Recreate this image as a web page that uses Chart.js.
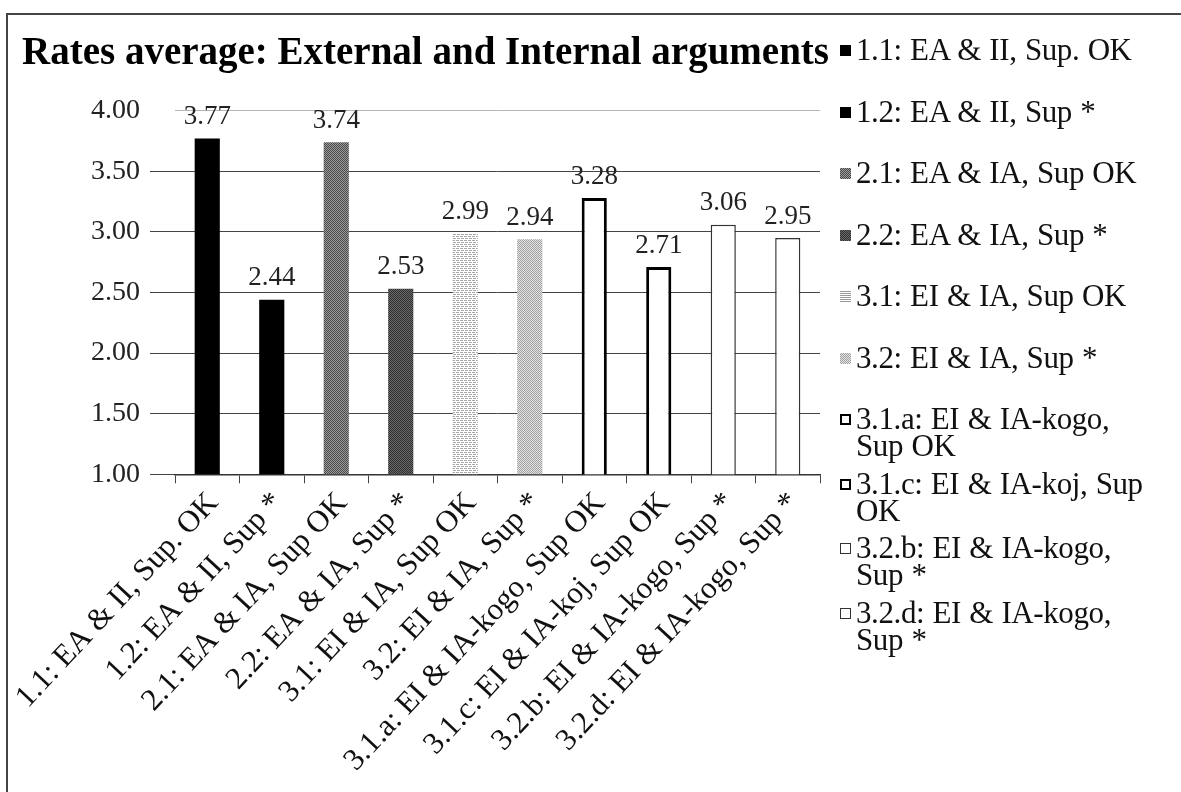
<!DOCTYPE html>
<html>
<head>
<meta charset="utf-8">
<title>Rates average</title>
<script src="https://cdn.jsdelivr.net/npm/chart.js@4/dist/chart.umd.min.js"></script>
<style>
    body { margin: 0; background: #fff; font-family: "Liberation Serif", "Times New Roman", Times, serif; }
    #frame { position: absolute; left: 6px; top: 13px; width: 1200px; height: 800px;
             border-left: 2px solid #444; border-top: 2px solid #444; }
    #wrap { position: absolute; left: 0; top: 0; width: 845px; height: 792px; }
    #legend { position: absolute; left: 838px; top: 36px; width: 343px; color: #111; }
    .item { display: flex; align-items: flex-start; font-size: 31px; line-height: 27px; }
    .item.one { height: 61.5px; }
    .item.two { height: 64.5px; }
    .mark { flex: 0 0 11px; width: 11px; height: 11px; margin: 9px 5px 0 2px; box-sizing: border-box; }
    .txt { width: 298px; letter-spacing: -0.4px; word-spacing: 1px; }
</style>
</head>
<body>
<div id="frame"></div>
<div id="wrap"><canvas id="rateChart"></canvas></div>
<div id="legend"></div>
<script>
const TITLE = 'Rates average: External and Internal arguments';
const SERIF = '"Liberation Serif", "Times New Roman", Times, serif';

const categories = [
    '1.1: EA & II, Sup. OK',
    '1.2: EA & II, Sup *',
    '2.1: EA & IA, Sup OK',
    '2.2: EA & IA, Sup *',
    '3.1: EI & IA, Sup OK',
    '3.2: EI & IA, Sup *',
    '3.1.a: EI & IA-kogo, Sup OK',
    '3.1.c: EI & IA-koj, Sup OK',
    '3.2.b: EI & IA-kogo, Sup *',
    '3.2.d: EI & IA-kogo, Sup *'
];

const rates = [3.77, 2.44, 3.74, 2.53, 2.99, 2.94, 3.28, 2.71, 3.06, 2.95];

const yTicks = [1.00, 1.50, 2.00, 2.50, 3.00, 3.50, 4.00];

// small repeating fills, close to the old printed hatches
function makePattern(bg, fg, kind) {
    const c = document.createElement('canvas');
    c.width = 4; c.height = 4;
    const g = c.getContext('2d');
    g.fillStyle = bg;
    g.fillRect(0, 0, 4, 4);
    g.fillStyle = fg;
    for (let y = 0; y < 4; y++) {
        for (let x = 0; x < 4; x++) {
            if (kind === 'checker' && (x + y) % 2 === 0) g.fillRect(x, y, 1, 1);
            if (kind === 'dash' && ((y === 0 && x < 3) || (y === 2 && x > 0))) g.fillRect(x, y, 1, 1);
        }
    }
    return g.createPattern(c, 'repeat');
}

const fills = [
    '#000000',
    '#000000',
    makePattern('#9a9a9a', '#4a4a4a', 'checker'),
    makePattern('#6a6a6a', '#2e2e2e', 'checker'),
    makePattern('#ffffff', '#a8a8a8', 'dash'),
    makePattern('#e4e4e4', '#a0a0a0', 'checker'),
    '#ffffff',
    '#ffffff',
    '#ffffff',
    '#ffffff'
];
const borders = ['#000', '#000', '#666', '#444', '#ccc', '#bbb', '#000', '#000', '#333', '#333'];
const borderWidths = [0, 0, 0, 0, 0, 0, 3, 3, 1.5, 1.5];

// css versions for the html legend markers
const markCss = [
    'background:#000;',
    'background:#000;',
    'background:repeating-conic-gradient(#4a4a4a 0 25%, #9a9a9a 0 50%) 0 0/2px 2px;',
    'background:repeating-conic-gradient(#2e2e2e 0 25%, #6a6a6a 0 50%) 0 0/2px 2px;',
    'background:repeating-linear-gradient(#999 0 1px, #fff 1px 2px);',
    'background:repeating-conic-gradient(#a0a0a0 0 25%, #e4e4e4 0 50%) 0 0/2px 2px;',
    'background:#fff;border:2px solid #000;',
    'background:#fff;border:2px solid #000;',
    'background:#fff;border:1px solid #333;',
    'background:#fff;border:1px solid #333;'
];

const valueLabels = {
    id: 'valueLabels',
    afterDatasetsDraw(chart) {
        const ctx = chart.ctx;
        const meta = chart.getDatasetMeta(0);
        ctx.save();
        ctx.font = '27px ' + SERIF;
        ctx.fillStyle = '#222';
        ctx.textAlign = 'center';
        ctx.textBaseline = 'bottom';
        meta.data.forEach((bar, i) => {
            ctx.fillText(rates[i].toFixed(2), bar.x, bar.y - 8);
        });
        ctx.restore();
    }
};

// the built-in title squeezes text to the box width, this one may run past the plot
const wideTitle = {
    id: 'wideTitle',
    afterDraw(chart) {
        const ctx = chart.ctx;
        ctx.save();
        ctx.font = 'bold 39px ' + SERIF;
        ctx.fillStyle = '#000';
        ctx.textAlign = 'left';
        ctx.textBaseline = 'alphabetic';
        ctx.fillText(TITLE, 22, 64);
        ctx.restore();
    }
};

function buildLegend() {
    const box = document.getElementById('legend');
    categories.forEach((name, i) => {
        const item = document.createElement('div');
        item.className = 'item ' + (i < 6 ? 'one' : 'two');
        const mark = document.createElement('span');
        mark.className = 'mark';
        mark.style.cssText = markCss[i];
        const txt = document.createElement('span');
        txt.className = 'txt';
        txt.textContent = name;
        item.appendChild(mark);
        item.appendChild(txt);
        box.appendChild(item);
    });
}

document.addEventListener('DOMContentLoaded', () => {
    buildLegend();

    const ctx = document.getElementById('rateChart').getContext('2d');
    new Chart(ctx, {
        type: 'bar',
        data: {
            labels: categories,
            datasets: [{
                data: rates,
                backgroundColor: fills,
                borderColor: borders,
                borderWidth: borderWidths,
                borderSkipped: false,
                categoryPercentage: 1,
                barPercentage: 0.39
            }]
        },
        options: {
            responsive: true,
            maintainAspectRatio: false,
            animation: false,
            layout: { padding: { left: 22, right: 25, top: 110.7, bottom: 0 } },
            scales: {
                x: {
                    afterFit: s => { s.height = 317.7; },
                    grid: {
                        drawOnChartArea: false,
                        drawTicks: true,
                        tickLength: 9,
                        tickColor: '#444'
                    },
                    border: { display: true, color: '#333', width: 1.5 },
                    ticks: {
                        autoSkip: false,
                        maxRotation: 47,
                        minRotation: 47,
                        padding: 2,
                        labelOffset: 6,
                        color: '#111',
                        font: { family: SERIF, size: 31 }
                    }
                },
                y: {
                    min: 1,
                    max: 4,
                    afterFit: s => { s.width = 153; },
                    afterBuildTicks: s => { s.ticks = yTicks.map(v => ({ value: v })); },
                    grid: {
                        color: c => (c.tick && c.tick.value === 4 ? '#b5b5b5' : '#444'),
                        tickColor: c => (c.tick && c.tick.value === 4 ? '#ffffff' : '#444'),
                        lineWidth: 1,
                        drawTicks: true,
                        tickLength: 25
                    },
                    border: { display: false },
                    ticks: {
                        padding: 10,
                        color: '#222',
                        font: { family: SERIF, size: 28 },
                        callback: v => Number(v).toFixed(2)
                    }
                }
            },
            plugins: {
                legend: { display: false },
                tooltip: { enabled: false },
                title: { display: false }
            }
        },
        plugins: [valueLabels, wideTitle]
    });
});
</script>
</body>
</html>
